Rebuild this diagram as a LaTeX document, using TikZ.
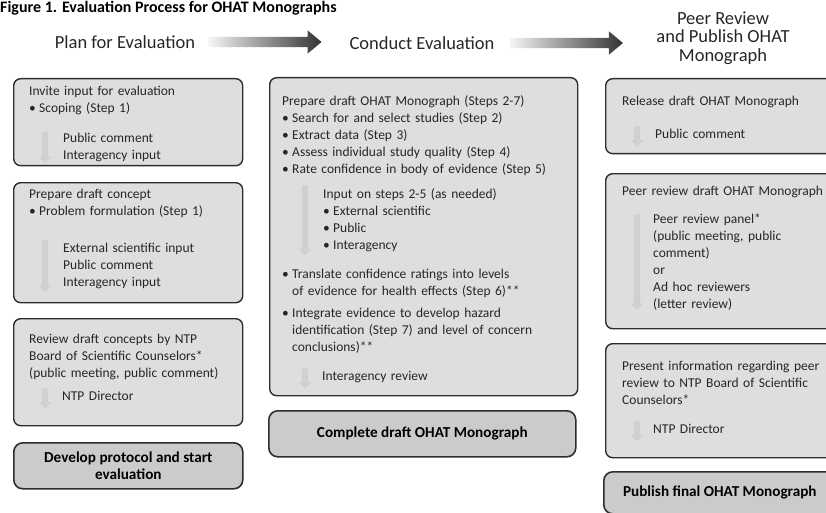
\documentclass[tikz,border=0pt]{standalone}
\usepackage{fontspec}
\setmainfont{Carlito}
\usepackage{xcolor}
\usetikzlibrary{positioning,shapes.arrows}
\definecolor{boxfill}{HTML}{DEDEDE}
\definecolor{keyfill}{HTML}{CBCBCB}
\definecolor{boxline}{HTML}{2E2E2E}
\definecolor{cuefill}{HTML}{D0D0D0}
\definecolor{inkgray}{HTML}{262626}
\newcommand{\titlefont}{\fontsize{16}{18}\selectfont\bfseries}
\newcommand{\headfont}{\fontsize{18.5}{18.5}\selectfont}
\newcommand{\bodyfont}{\fontsize{13.5}{17}\selectfont}
\newcommand{\keyfont}{\fontsize{15.2}{17}\selectfont\bfseries}
\newcommand{\itembull}{\makebox[10pt][l]{\textbullet}}
\newcommand{\itemhang}{\hspace*{10pt}}

\begin{document}
\begin{tikzpicture}[x=1pt, y=-1pt,
  panel/.style={draw=boxline, line width=1.4pt, fill=boxfill, rounded corners=7pt, inner sep=0pt, anchor=north west},
  keybox/.style={panel, fill=keyfill, line width=1.6pt, rounded corners=9pt, font=\keyfont, align=center, text=black},
  textblock/.style={anchor=north west, inner sep=0pt, align=left, text width=#1, font=\bodyfont, text=inkgray, execute at begin node=\strut},
  textblock/.default=205pt,
  heading/.style={font=\headfont, align=center, text=inkgray, inner sep=0pt},
  flow/.style={single arrow, single arrow head extend=6.5pt, single arrow tip angle=80, inner xsep=0pt, inner ysep=5pt, minimum height=113pt, left color=gray!8, right color=black!80, draw=none},
  cue/.style={single arrow, shape border rotate=270, single arrow head extend=3pt, inner sep=3pt, fill=cuefill, draw=none}]
\clip (0,0) rectangle (826,513);

\node[font=\titlefont, anchor=base west, inner sep=0pt] (title) at (0,13) {Figure 1. Evaluation Process for OHAT Monographs};

\node[heading] (plan) at (125,42) {Plan for Evaluation};
\node[heading] (conduct) at (422,43) {Conduct Evaluation};
\node[heading] (peer) at (723,38) {Peer Review\\and Publish OHAT\\Monograph};
\node[flow, right=13pt of plan] (toconduct) {};
\node[flow, right=15pt of conduct] (topeer) {};

\node[panel, minimum width=229pt, minimum height=87pt] (invite) at (13,78) {};
\node[textblock] (invitetxt) at (29,83) {Invite input for evaluation\\\itembull Scoping (Step 1)};
\node[textblock] (invitesub) at (63,130) {Public comment\\Interagency input};
\node[cue, minimum height=31pt] (invitecue) at ([xshift=-18pt]invitesub.west) {};

\node[panel, minimum width=229pt, minimum height=120pt] (concept) at (13,182) {};
\node[textblock] (concepttxt) at (29,186) {Prepare draft concept\\\itembull Problem formulation (Step 1)};
\node[textblock] (conceptsub) at (63,240) {External scientific input\\Public comment\\Interagency input};
\node[cue, minimum height=52pt] (conceptcue) at ([xshift=-18pt]conceptsub.west) {};

\node[panel, minimum width=229pt, minimum height=107pt] (bsc) at (13,318) {};
\node[textblock] (bsctxt) at (29,331) {Review draft concepts by NTP\\Board of Scientific Counselors*\\(public meeting, public comment)};
\node[textblock] (bscsub) at (62,388) {NTP Director};
\node[cue, minimum height=20pt] (bsccue) at ([xshift=-17pt]bscsub.west) {};

\node[keybox, minimum width=229pt, minimum height=46pt] (protocol) at (13,442) {Develop protocol and start\\evaluation};

\node[panel, minimum width=308pt, minimum height=318pt] (draft) at (269,77) {};
\node[textblock=285pt] (drafttxt) at (282,93) {Prepare draft OHAT Monograph (Steps 2-7)\\\itembull Search for and select studies (Step 2)\\\itembull Extract data (Step 3)\\\itembull Assess individual study quality (Step 4)\\\itembull Rate confidence in body of evidence (Step 5)};
\node[textblock=240pt] (draftsub) at (323,186) {Input on steps 2-5 (as needed)\\\itembull External scientific\\\itembull Public\\\itembull Interagency};
\node[cue, minimum height=70pt] (draftcue) at ([xshift=-18pt]draftsub.west) {};
\node[textblock=285pt] (drafttail) at (282,266) {\itembull Translate confidence ratings into levels\\\itemhang of evidence for health effects (Step 6)**\\[5pt]\itembull Integrate evidence to develop hazard\\\itemhang identification (Step 7) and level of concern\\\itemhang conclusions)**};
\node[textblock=240pt] (draftrev) at (322,368) {Interagency review};
\node[cue, minimum height=20pt] (revcue) at ([xshift=-17pt]draftrev.west) {};

\node[keybox, minimum width=307pt, minimum height=46pt] (complete) at (268,410) {Complete draft OHAT Monograph};

\node[panel, minimum width=230pt, minimum height=75pt] (release) at (605,78) {};
\node[textblock=215pt] (releasetxt) at (622,93) {Release draft OHAT Monograph};
\node[textblock=200pt] (releasesub) at (655,126) {Public comment};
\node[cue, minimum height=20pt] (releasecue) at ([xshift=-18pt]releasesub.west) {};

\node[panel, minimum width=230pt, minimum height=155pt] (review) at (605,173) {};
\node[textblock=215pt] (reviewtxt) at (622,183) {Peer review draft OHAT Monograph};
\node[textblock=180pt] (reviewsub) at (653,211) {Peer review panel*\\(public meeting, public\\comment)\\or\\Ad hoc reviewers\\(letter review)};
\node[cue, minimum height=95pt] (reviewcue) at ([xshift=-16pt]reviewsub.west) {};

\node[panel, minimum width=230pt, minimum height=114pt] (present) at (605,343) {};
\node[textblock=215pt] (presenttxt) at (622,358) {Present information regarding peer\\review to NTP Board of Scientific\\Counselors*};
\node[textblock=180pt] (presentsub) at (653,421) {NTP Director};
\node[cue, minimum height=20pt] (presentcue) at ([xshift=-16pt]presentsub.west) {};

\node[keybox, minimum width=232pt, minimum height=42pt] (publish) at (603,471) {Publish final OHAT Monograph};
\end{tikzpicture}
\end{document}
